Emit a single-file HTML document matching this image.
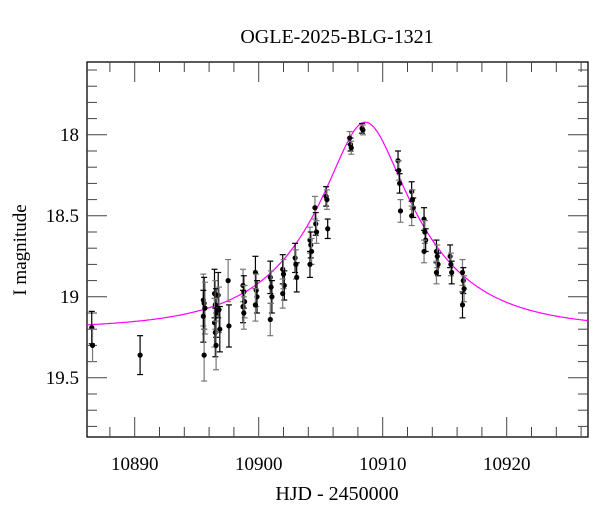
<!DOCTYPE html>
<html><head><meta charset="utf-8"><style>
html,body{margin:0;padding:0;background:#fff;}
svg{display:block;font-family:"Liberation Serif",serif;}
</style></head><body>
<svg id="s" width="600" height="512" xmlns="http://www.w3.org/2000/svg">
<text x="337" y="43" font-size="20" text-anchor="middle">OGLE-2025-BLG-1321</text>
<text x="337" y="500" font-size="20" text-anchor="middle">HJD - 2450000</text>
<text transform="translate(26,250) rotate(-90)" font-size="19" text-anchor="middle">I magnitude</text>
<g id="g"></g>
</svg>
<script>
const L=87,R=588,T=62,B=437;
const X=t=>134.7+(t-10890)*12.4;
const Y=m=>134.8+(m-18)*162;
let h='';
h+=`<rect x="${L}" y="${T}" width="${R-L}" height="${B-T}" fill="none" stroke="#000" stroke-width="1.3"/>`;
for(let t=10888;t<=10926;t+=2){const x=X(t);const maj=(t%10===0);const l=maj?20:10;
h+=`<line x1="${x}" y1="${T}" x2="${x}" y2="${T+l}" stroke="#444"/><line x1="${x}" y1="${B}" x2="${x}" y2="${B-l}" stroke="#444"/>`;
if(maj)h+=`<text x="${x}" y="470" font-size="19" text-anchor="middle">${t}</text>`;}
for(let i=0;i<=24;i++){const m=17.5+i*0.1;const y=Y(m);if(y<T+2||y>B-2)continue;const maj=(i%5===0);const l=maj?20:10;
h+=`<line x1="${L}" y1="${y}" x2="${L+l}" y2="${y}" stroke="#444"/><line x1="${R}" y1="${y}" x2="${R-l}" y2="${y}" stroke="#444"/>`;
if(maj){const lab=['17.5','18','18.5','19','19.5','20'][i/5];h+=`<text x="79" y="${y+6}" font-size="19" text-anchor="end">${lab}</text>`;}}
const t0=10908.6,u0=0.32,tE=8.5,fs=1.0,mb=19.2;
let p='';for(let x=L;x<=R;x+=1){const t=10890+(x-134.7)/12.4;const u2=u0*u0+((t-t0)/tE)**2;const u=Math.sqrt(u2);const A=(u2+2)/(u*Math.sqrt(u2+4));const m=mb-2.5*Math.log10(fs*A+1-fs);p+=(p?'L':'M')+x.toFixed(1)+' '+Y(m).toFixed(1);}
h+=`<path d="${p}" fill="none" stroke="#f0f" stroke-width="1.2"/>`;
const D=[[10886.6,[19.19,19.30],0.1],[10890.5,[19.36],0.12],
[10895.6,[19.02,19.04,19.07,19.12,19.36],0.16],[10896.5,[18.98,19.05,19.10,19.16,19.22,19.30],0.15],
[10896.8,[18.99,19.08,19.20],0.14],[10897.6,[18.90,19.18],0.13],
[10898.8,[18.93,18.97,19.03,19.06,19.10],0.1],[10899.8,[18.85,18.96,19.00,19.05],0.1],
[10901,[18.88,18.94,19.00,19.14],0.1],[10902,[18.83,18.86,18.93,18.98],0.09],
[10903,[18.76,18.80,18.88],0.09],[10904.2,[18.65,18.68,18.72,18.80],0.08],
[10904.6,[18.45,18.55,18.60],0.07],[10905.5,[18.38,18.40,18.58],0.06],
[10907.4,[18.02,18.06,18.08],0.04],[10908.4,[17.96,17.97],0.03],
[10911.3,[18.16,18.22,18.30],0.06],[10911.5,[18.47],0.07],[10912.4,[18.35,18.40,18.45,18.50],0.06],
[10913.4,[18.52,18.60,18.65,18.72],0.07],[10914.4,[18.72,18.75,18.80,18.85],0.07],
[10915.5,[18.75,18.80,18.85],0.07],[10916.5,[18.85,18.90,18.95,19.05],0.08]];
let k=0;
for(const [t,ms,e] of D){ms.forEach((m,i)=>{const x=X(t)+(i%3-1)*0.8;const c=(k++%2)?'#777':'#000';const y1=Y(m-e),y2=Y(m+e);
h+=`<line x1="${x}" y1="${y1}" x2="${x}" y2="${y2}" stroke="${c}" stroke-width="1.2"/><line x1="${x-3}" y1="${y1}" x2="${x+3}" y2="${y1}" stroke="${c}" stroke-width="1.2"/><line x1="${x-3}" y1="${y2}" x2="${x+3}" y2="${y2}" stroke="${c}" stroke-width="1.2"/><circle cx="${x}" cy="${Y(m)}" r="2.6" fill="#000"/>`;});}
document.getElementById('g').innerHTML=h;
</script>
</body></html>
